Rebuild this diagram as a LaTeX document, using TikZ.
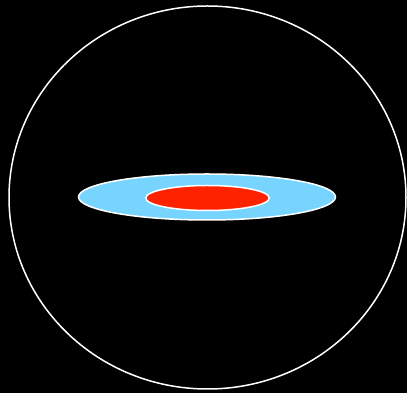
\documentclass[tikz,border=0pt]{standalone}
\usepackage{xcolor}
\usepackage{tikz}
\usetikzlibrary{shapes.geometric}

\definecolor{diskblue}{HTML}{77D4FF}
\definecolor{corered}{HTML}{FF2200}

\begin{document}
\begin{tikzpicture}[
  x=1pt, y=1pt,
  ring/.style={ellipse, draw=white, line width=1.5pt, inner sep=0pt},
  halo/.style={ring},
  disk/.style={ring, fill=diskblue},
  core/.style={ring, fill=corered}
]
  \fill[black] (0,0) rectangle (407,393);
  \useasboundingbox (0,0) rectangle (407,393);
  \node[halo, minimum width=397pt, minimum height=383pt] (sphere) at (207.5,195.5) {};
  \node[disk, minimum width=257pt, minimum height=46pt] (disc) at (207,196) {};
  \node[core, minimum width=123.5pt, minimum height=25pt] (bulge) at (207.5,195) {};
\end{tikzpicture}
\end{document}
